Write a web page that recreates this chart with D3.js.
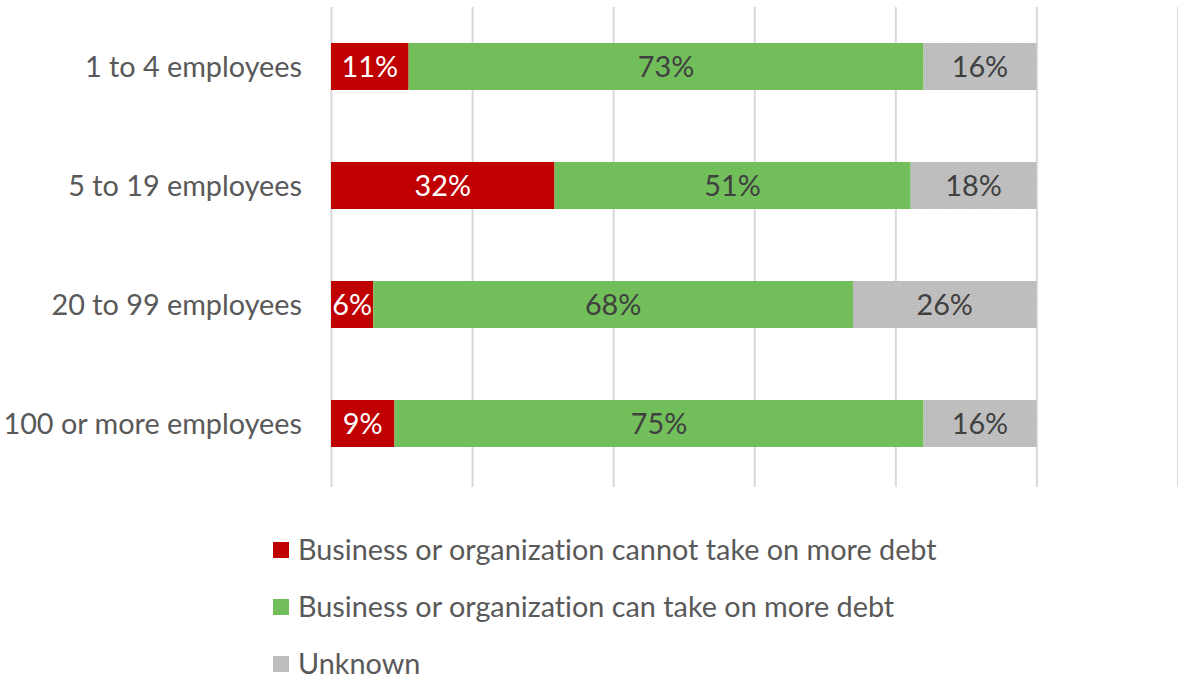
<!DOCTYPE html>
<html>
<head>
<meta charset="utf-8">
<script src="https://cdn.jsdelivr.net/npm/d3@7"></script>
<style>
  html, body { margin: 0; padding: 0; background: #fff; }
  svg { display: block; }
  text { font-family: Lato, "Open Sans", sans-serif; font-variant-ligatures: none; font-feature-settings: "liga" 0, "clig" 0; }
</style>
</head>
<body>
<svg id="chart" width="1178" height="680"></svg>
<script>
// Company size groups, top to bottom
const categories = ["1 to 4 employees", "5 to 19 employees", "20 to 99 employees", "100 or more employees"];
// Share of businesses (%) in each debt-capacity group
const cannotTakeDebt = [11, 32, 6, 9];
const canTakeDebt = [73, 51, 68, 75];
const unknown = [16, 18, 26, 16];
const seriesNames = [
  "Business or organization cannot take on more debt",
  "Business or organization can take on more debt",
  "Unknown"
];
const gridTicks = [0, 0.2, 0.4, 0.6, 0.8, 1.0, 1.2];

const colors = ["#C00000", "#71BE5A", "url(#unknownFill)"];
const swatchColors = ["#C00000", "#71BE5A", "#BDBDBD"];
const labelColors = ["#FFFFFF", "#404040", "#404040"];
const fontSize = 28.8;

const rows = categories.map((c, i) => ({
  cat: c,
  s0: cannotTakeDebt[i],
  s1: canTakeDebt[i],
  s2: unknown[i]
}));

const svg = d3.select("#chart");

// Light dotted texture for the "Unknown" segments
const defs = svg.append("defs");
const pat = defs.append("pattern")
  .attr("id", "unknownFill")
  .attr("patternUnits", "userSpaceOnUse")
  .attr("width", 3).attr("height", 3);
pat.append("rect").attr("width", 3).attr("height", 3).attr("fill", "#BDBDBD");
pat.append("rect").attr("x", 1).attr("y", 1).attr("width", 1).attr("height", 1).attr("fill", "#C6C6C6");

const x = d3.scaleLinear().domain([0, 1.2]).range([331, 1177.5]);
const y = d3.scaleBand().domain(categories).range([7, 483])
  .paddingInner(0.605).paddingOuter(0.3025);

// Vertical gridlines
const grid = svg.append("g")
  .attr("transform", "translate(0,487)")
  .call(d3.axisBottom(x).tickValues(gridTicks).tickSize(-480).tickFormat(""));
grid.select(".domain").remove();
grid.selectAll(".tick line").attr("stroke", "#D9D9D9").attr("stroke-width", 2);

// Stacked bars, each row normalised to its total
const stack = d3.stack().keys(["s0", "s1", "s2"]).offset(d3.stackOffsetExpand);
const layers = stack(rows);

const layerG = svg.append("g").selectAll("g")
  .data(layers).join("g")
  .attr("fill", (d, i) => colors[i]);

layerG.selectAll("rect")
  .data(d => d)
  .join("rect")
  .attr("x", d => x(d[0]))
  .attr("y", d => y(d.data.cat))
  .attr("width", d => x(d[1]) - x(d[0]))
  .attr("height", y.bandwidth());

// Value labels centred in each segment
const keys = ["s0", "s1", "s2"];
layers.forEach((layer, li) => {
  svg.append("g").selectAll("text")
    .data(layer).join("text")
    .attr("x", d => (x(d[0]) + x(d[1])) / 2)
    .attr("y", d => y(d.data.cat) + y.bandwidth() / 2)
    .attr("dy", "0.36em")
    .attr("text-anchor", "middle")
    .attr("font-size", fontSize)
    .attr("fill", labelColors[li])
    .text(d => d.data[keys[li]] + "%");
});

// Category labels
svg.append("g").selectAll("text")
  .data(categories).join("text")
  .attr("x", 302)
  .attr("y", d => y(d) + y.bandwidth() / 2)
  .attr("dy", "0.36em")
  .attr("text-anchor", "end")
  .attr("font-size", fontSize)
  .attr("fill", "#595959")
  .text(d => d);

// Legend
const legend = svg.append("g").selectAll("g")
  .data(seriesNames).join("g")
  .attr("transform", (d, i) => `translate(273,${550 + i * 57})`);
legend.append("rect")
  .attr("x", 0).attr("y", -8).attr("width", 16).attr("height", 16)
  .attr("fill", (d, i) => swatchColors[i]);
legend.append("text")
  .attr("x", 25).attr("dy", "0.36em")
  .attr("font-size", fontSize)
  .attr("fill", "#595959")
  .text(d => d);
</script>
</body>
</html>
